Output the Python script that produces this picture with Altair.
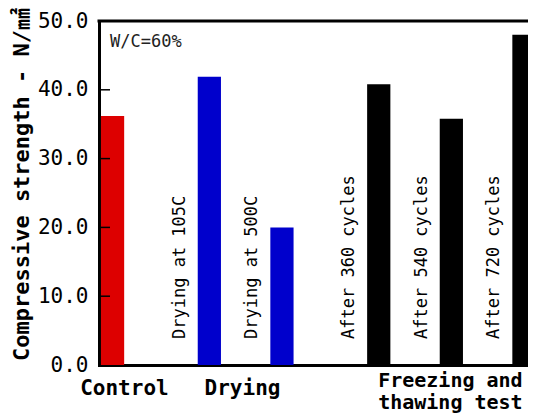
import altair as alt
import pandas as pd

# ---- data ----
categories = ["Control", "Drying at 105C", "Drying at 500C",
              "After 360 cycles", "After 540 cycles", "After 720 cycles"]
groups = ["Control", "Drying", "Drying",
          "Freezing and thawing test", "Freezing and thawing test", "Freezing and thawing test"]
strength = [36.2, 41.9, 20.0, 40.8, 35.8, 48.0]
bar_labels = ["", "Drying at 105C", "Drying at 500C",
              "After 360 cycles", "After 540 cycles", "After 720 cycles"]
group_names = ["Control", "Drying", "Freezing and thawing test"]
group_texts = ["Control", "Drying", "Freezing and\nthawing test"]
y_ticks = [0, 10, 20, 30, 40, 50]
note = "W/C=60%"

# ---- layout (slot positions on a hidden quantitative x scale) ----
slots = [0, 4, 7, 11, 14, 17]
group_centers = [0.97, 5.85, 14.44]

MONO = "DejaVu Sans Mono, Noto Sans CJK JP"
PLOT_W = 429
UNIT = 24.2
X_MIN = -0.08

df = pd.DataFrame({
    "category": categories,
    "group": groups,
    "strength": strength,
    "label": bar_labels,
    "x0": slots,
})
df["x1"] = df["x0"] + 0.96
df["xl"] = df["x0"] - 0.75

gdf = pd.DataFrame({"group": group_names, "text": group_texts, "xc": group_centers})
tdf = pd.DataFrame({"tickv": y_ticks[1:-1]})
tdf["ta"] = X_MIN
tdf["tb"] = X_MIN + 11 / UNIT
one = pd.DataFrame({"note": [note]})

xscale = alt.Scale(domain=[X_MIN, X_MIN + PLOT_W / UNIT], nice=False, zero=False)
yscale = alt.Scale(domain=[0, 50], nice=False)

base = alt.Chart(df)

bars = base.mark_bar(clip=True).encode(
    x=alt.X("x0:Q", scale=xscale,
            axis=alt.Axis(title=None, labels=False, ticks=False, grid=False,
                          domainWidth=3, domainColor="black", domainCap="square")),
    x2="x1:Q",
    y=alt.Y("strength:Q", scale=yscale,
            axis=alt.Axis(title="Compressive strength - N/㎟", values=y_ticks, format=".1f",
                          ticks=False, grid=False, domainWidth=3, domainColor="black",
                          domainCap="square",
                          labelFont=MONO, labelFontSize=21, labelColor="black",
                          labelPadding=11,
                          titleFont=MONO, titleFontSize=22, titleFontWeight="bold",
                          titleColor="black", titleAngle=270, titleAlign="center",
                          titleBaseline="middle", titleX=-78, titleY=163)),
    y2=alt.datum(0),
    color=alt.Color("group:N", legend=None,
                    scale=alt.Scale(domain=group_names,
                                    range=["#dd0000", "#0000cc", "#000000"])),
)

labels = alt.Chart(df[df["label"] != ""]).mark_text(
    angle=270, align="left", baseline="middle", font=MONO, fontSize=17, color="black"
).encode(
    x=alt.X("xl:Q", scale=xscale),
    y=alt.value(318),
    text="label:N",
)

tick_marks = alt.Chart(tdf).mark_rule(color="black", strokeWidth=1.5).encode(
    x=alt.X("ta:Q", scale=xscale),
    x2="tb:Q",
    y=alt.Y("tickv:Q", scale=yscale),
)

top_line = alt.Chart(one).mark_rule(color="black", strokeWidth=3, strokeCap="square").encode(
    y=alt.value(0),
    x=alt.value(0),
    x2=alt.value(PLOT_W),
)

note_text = alt.Chart(one).mark_text(
    align="left", baseline="alphabetic", font=MONO, fontSize=17, color="#222222"
).encode(
    x=alt.value(11), y=alt.value(26), text="note:N"
)

group_single = alt.Chart(gdf[~gdf["text"].str.contains("\n")]).mark_text(
    align="center", baseline="alphabetic", font=MONO, fontSize=21,
    fontWeight="bold", color="black"
).encode(
    x=alt.X("xc:Q", scale=xscale),
    y=alt.value(374),
    text="text:N",
)

group_multi = alt.Chart(gdf[gdf["text"].str.contains("\n")]).mark_text(
    align="center", baseline="alphabetic", font=MONO, fontSize=20,
    fontWeight="bold", color="black", lineBreak="\n", lineHeight=22
).encode(
    x=alt.X("xc:Q", scale=xscale),
    y=alt.value(366),
    text="text:N",
)

chart = alt.layer(bars, labels, top_line, note_text,
                  group_single, group_multi, tick_marks).properties(
    width=PLOT_W, height=344,
    padding={"left": 91, "top": 13, "right": 0, "bottom": 52},
    autosize=alt.AutoSizeParams(type="none"),
).configure_view(stroke=None).configure(background="white")

chart.save("out.html", embed_options={"renderer": "svg", "actions": False})
